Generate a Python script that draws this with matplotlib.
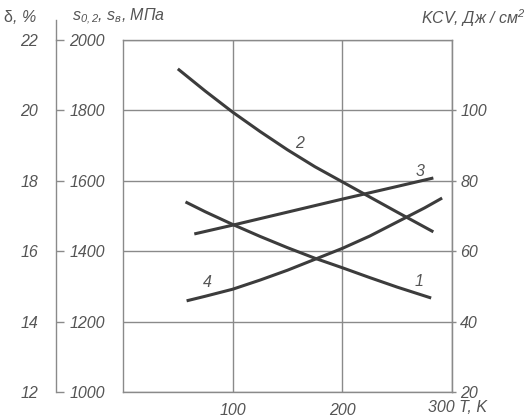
import matplotlib
matplotlib.use("Agg")
import matplotlib.pyplot as plt

# ---- data (values in the MPa-axis scale; delta = 12+(y-1000)/100, KCV = 20+(y-1000)/10)
T1 = [57, 75, 100, 125, 150, 175, 200, 225, 250, 281]
curve1 = [1540, 1512, 1476, 1442, 1410, 1380, 1353, 1325, 1298, 1267]

T2 = [50, 75, 100, 125, 150, 175, 200, 225, 250, 283]
curve2 = [1918, 1855, 1795, 1740, 1688, 1640, 1597, 1554, 1511, 1455]

T3 = [65, 100, 150, 200, 250, 283]
curve3 = [1449, 1474, 1511, 1548, 1584, 1608]

T4 = [58, 75, 100, 125, 150, 175, 200, 225, 250, 275, 291]
curve4 = [1259, 1272, 1292, 1318, 1346, 1377, 1408, 1443, 1483, 1523, 1551]

curve_labels = ["1", "2", "3", "4"]
mpa_ticks = [1000, 1200, 1400, 1600, 1800, 2000]
delta_ticks = [12, 14, 16, 18, 20, 22]
kcv_ticks = [20, 40, 60, 80, 100]
x_ticks = [100, 200]

plt.rcParams['font.family'] = ['Liberation Sans', 'DejaVu Sans']
plt.rcParams['font.style'] = 'italic'
plt.rcParams['mathtext.fontset'] = 'custom'
plt.rcParams['mathtext.it'] = 'Liberation Sans:italic'
plt.rcParams['mathtext.rm'] = 'Liberation Sans:italic'

TXT = '#555555'
GRID = '#8a8a8a'
LINE = '#3c3c3c'
FS = 11.5

W, H = 529, 418
fig = plt.figure(figsize=(W / 100, H / 100), dpi=100)
ax = fig.add_axes([123 / W, 1 - 392 / H, 329 / W, 352 / H])
ax.set_xlim(0, 300)
ax.set_ylim(1000, 2000)

for s in ax.spines.values():
    s.set_color(GRID)
    s.set_linewidth(1.0)

ax.set_xticks(x_ticks + [300])
ax.set_xticklabels([str(v) for v in x_ticks] + [''])
ax.set_yticks(mpa_ticks)
ax.set_yticklabels([str(v) for v in mpa_ticks])
ax.tick_params(axis='both', length=0, colors=TXT, labelsize=FS)
ax.tick_params(axis='y', pad=13)
ax.tick_params(axis='x', pad=8)
ax.grid(True, color=GRID, linewidth=1.0)
ax.set_axisbelow(True)

for T, c in [(T1, curve1), (T2, curve2), (T3, curve3), (T4, curve4)]:
    ax.plot(T, c, color=LINE, linewidth=2.2, solid_capstyle='butt')

# curve numbers
lab_pos = {"1": (270, 1313), "2": (161, 1707), "3": (271, 1625), "4": (77, 1310)}
for k in curve_labels:
    x, y = lab_pos[k]
    ax.text(x, y, k, color=TXT, fontsize=FS, ha='center', va='center')

# delta axis (left, outer)
fwd_d = lambda y: 12 + (y - 1000) / 100.0
inv_d = lambda d: 1000 + (d - 12) * 100.0
sd = ax.secondary_yaxis(-67 / 329, functions=(fwd_d, inv_d))
sd.set_yticks(delta_ticks)
sd.set_yticklabels([str(v) for v in delta_ticks])
sd.tick_params(direction='in', length=6, width=1.0, colors=TXT,
               labelsize=FS, pad=13)
sd.tick_params(color=GRID)
sd.spines['left'].set_color(GRID)
sd.spines['left'].set_linewidth(1.0)
ax.plot([-67 / 329] * 2, [1, 1 + 20 / 352], transform=ax.transAxes,
        color=GRID, linewidth=1.0, clip_on=False)

# KCV axis (right)
fwd_k = lambda y: 20 + (y - 1000) / 10.0
inv_k = lambda k: 1000 + (k - 20) * 10.0
sk = ax.secondary_yaxis('right', functions=(fwd_k, inv_k))
sk.set_yticks(kcv_ticks)
sk.set_yticklabels([str(v) for v in kcv_ticks])
sk.tick_params(direction='out', length=3, width=1.0, colors=TXT,
               labelsize=FS, pad=3)
sk.tick_params(color=GRID)
sk.spines['right'].set_color(GRID)

# axis titles
fig.text(3 / W, 1 - 18 / H, 'δ', color=TXT, fontsize=FS, ha='left', va='center',
         style='normal')
fig.text(13 / W, 1 - 18 / H, ', %', color=TXT, fontsize=FS, ha='left', va='center')
fig.text(72 / W, 1 - 17 / H, r'$s_{0,2}$, $s_{в}$, МПа', color=TXT, fontsize=FS,
         ha='left', va='center')
fig.text(526 / W, 1 - 18 / H, r'KCV, Дж / см$^2$', color=TXT, fontsize=FS,
         ha='right', va='center')
fig.text(428 / W, 1 - 408 / H, '300 T, K', color=TXT, fontsize=FS,
         ha='left', va='center')

fig.savefig('out.png', dpi=100)
